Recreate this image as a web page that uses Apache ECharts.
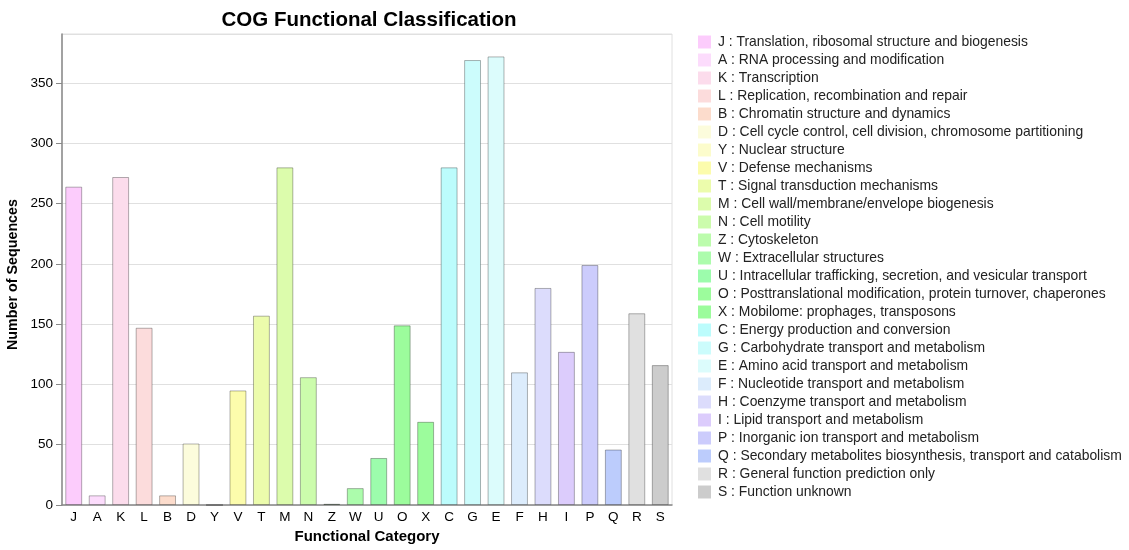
<!DOCTYPE html>
<html>
<head>
<meta charset="utf-8">
<script src="https://cdn.jsdelivr.net/npm/echarts@6/dist/echarts.min.js"></script>
<style>html,body{margin:0;padding:0;background:#fff;}#c{width:1129px;height:550px;}</style>
</head>
<body>
<div id="c"></div>
<script>
const categories = ['J','A','K','L','B','D','Y','V','T','M','N','Z','W','U','O','X','C','G','E','F','H','I','P','Q','R','S'];
const descriptions = [
  'Translation, ribosomal structure and biogenesis',
  'RNA processing and modification',
  'Transcription',
  'Replication, recombination and repair',
  'Chromatin structure and dynamics',
  'Cell cycle control, cell division, chromosome partitioning',
  'Nuclear structure',
  'Defense mechanisms',
  'Signal transduction mechanisms',
  'Cell wall/membrane/envelope biogenesis',
  'Cell motility',
  'Cytoskeleton',
  'Extracellular structures',
  'Intracellular trafficking, secretion, and vesicular transport',
  'Posttranslational modification, protein turnover, chaperones',
  'Mobilome: prophages, transposons',
  'Energy production and conversion',
  'Carbohydrate transport and metabolism',
  'Amino acid transport and metabolism',
  'Nucleotide transport and metabolism',
  'Coenzyme transport and metabolism',
  'Lipid transport and metabolism',
  'Inorganic ion transport and metabolism',
  'Secondary metabolites biosynthesis, transport and catabolism',
  'General function prediction only',
  'Function unknown'
];
const counts = [264, 8, 272, 147, 8, 51, 0, 95, 157, 280, 106, 1, 14, 39, 149, 69, 280, 369, 372, 110, 180, 127, 199, 46, 159, 116];
const colors = ['#FCCCFC','#FCDCFC','#FCDCEC','#FCDCDC','#FCDCCC','#FCFCDC','#FCFCCC','#FCFCAC','#ECFCAC','#DCFCAC','#CCFCAC','#BCFCAC','#ACFCAC','#9CFCAC','#9CFC9C','#9CFC9C','#BCFCFC','#CCFCFC','#DCFCFC','#DCECFC','#DCDCFC','#DCCCFC','#CCCCFC','#BCCCFC','#E0E0E0','#CCCCCC'];
const yTickInterval = 50;

const chart = echarts.init(document.getElementById('c'));
const font = 'Liberation Sans, Arial, sans-serif';
const yMax = Math.max(...counts) * 1.05;

const series = categories.map((c, i) => ({
  type: 'bar',
  name: c + ' : ' + descriptions[i],
  data: categories.map((_, j) => j === i ? counts[i] : null),
  barWidth: '72%',
  barGap: '-100%',
  itemStyle: { color: colors[i], borderColor: 'rgba(0,0,0,0.3)', borderWidth: 1 },
  emphasis: { disabled: true },
  animation: false
}));

chart.setOption({
  backgroundColor: '#fff',
  title: {
    text: 'COG Functional Classification',
    left: 364, top: 5, textAlign: 'center',
    textStyle: { fontFamily: font, fontSize: 20.5, fontWeight: 'bold', color: '#000' }
  },
  legend: {
    orient: 'vertical', left: 698, top: 35, padding: 0,
    itemWidth: 13, itemHeight: 13, itemGap: 4,
    icon: 'rect',
    itemStyle: { borderWidth: 0 },
    textStyle: { fontFamily: font, fontSize: 13.9, color: '#222', padding: [0, 0, 0, 2] },
    selectedMode: false
  },
  grid: { left: 62, right: 457, top: 34, bottom: 45, show: true, borderColor: '#e0e0e0', borderWidth: 1, outerBoundsMode: 'none', containLabel: false },
  xAxis: {
    type: 'category', data: categories,
    name: 'Functional Category', nameLocation: 'middle', nameGap: 24,
    nameTextStyle: { fontFamily: font, fontSize: 15, fontWeight: 'bold', color: '#000' },
    axisLine: { lineStyle: { color: '#888', width: 1.5 } },
    axisTick: { show: false },
    axisLabel: { fontFamily: font, fontSize: 13.5, color: '#000', margin: 5 }
  },
  yAxis: {
    type: 'value', min: 0, max: yMax, interval: yTickInterval,
    name: 'Number of Sequences', nameLocation: 'middle', nameGap: 38,
    nameTextStyle: { fontFamily: font, fontSize: 14.3, fontWeight: 'bold', color: '#000', padding: [0, 10, 0, 0] },
    axisLine: { show: true, lineStyle: { color: '#888', width: 1.5 } },
    axisTick: { show: true, length: 6, lineStyle: { color: '#888' } },
    axisLabel: { fontFamily: font, fontSize: 13.5, color: '#000', margin: 9, showMaxLabel: false,
      formatter: v => (v % 50 === 0 ? String(v) : '') },
    splitLine: { lineStyle: { color: '#e0e0e0', width: 1 } }
  },
  series: series
});
</script>
</body>
</html>
